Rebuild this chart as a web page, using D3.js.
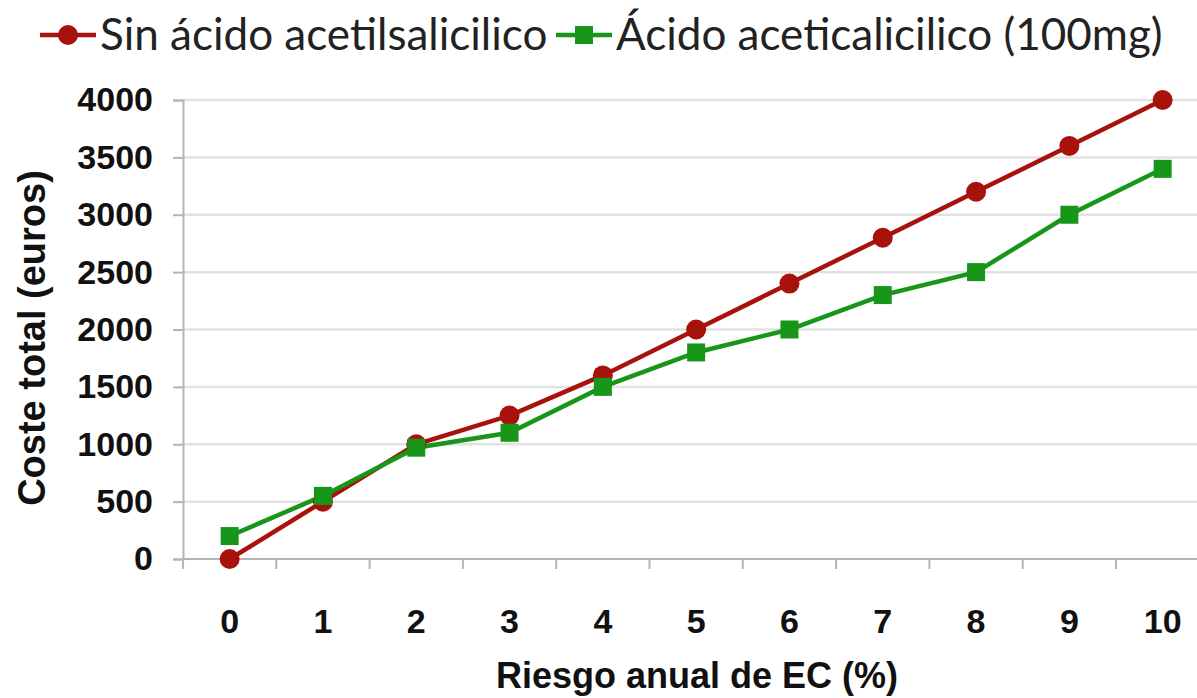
<!DOCTYPE html>
<html>
<head>
<meta charset="utf-8">
<script src="https://cdn.jsdelivr.net/npm/d3@7/dist/d3.min.js"></script>
<style>
  html, body { margin: 0; padding: 0; background: #fff; }
  svg { display: block; }
</style>
</head>
<body>
<svg id="chart" width="1197" height="698"></svg>
<script>
// Annual CHD risk (%) on the x axis
const categories = [0, 1, 2, 3, 4, 5, 6, 7, 8, 9, 10];
// Total cost (euros) per strategy
const sinAcido = [0, 500, 1000, 1250, 1600, 2000, 2400, 2800, 3200, 3600, 4000];
const conAcido = [200, 550, 970, 1100, 1500, 1800, 2000, 2300, 2500, 3000, 3400];
const yTicks = [0, 500, 1000, 1500, 2000, 2500, 3000, 3500, 4000];
const seriesNames = ["Sin ácido acetilsalicilico", "Ácido aceticalicilico (100mg)"];

const RED = "#a8120c";
const GREEN = "#17961a";
const BOLD_FONT = "Liberation Sans, Arial, sans-serif";

const svg = d3.select("#chart");
const m = { left: 183, top: 100, bottom: 559 };
const bandW = 93.3;

const x = d3.scaleBand()
  .domain(categories)
  .range([m.left, m.left + bandW * categories.length])
  .paddingInner(0).paddingOuter(0);
const y = d3.scaleLinear().domain([0, 4000]).range([m.bottom, m.top]);
const cx = d => x(d) + x.bandwidth() / 2;

// Horizontal gridlines
svg.append("g")
  .selectAll("line")
  .data(yTicks.filter(t => t > 0))
  .join("line")
  .attr("x1", m.left).attr("x2", 1197)
  .attr("y1", d => y(d)).attr("y2", d => y(d))
  .attr("stroke", "#e2e2e2").attr("stroke-width", 2.5);

// Y axis
const yAxis = svg.append("g")
  .attr("transform", `translate(${m.left},0)`)
  .call(d3.axisLeft(y).tickValues(yTicks).tickSize(10).tickPadding(20).tickFormat(d3.format("d")));
yAxis.select(".domain").attr("stroke", "#b5b5b5").attr("stroke-width", 2);
yAxis.selectAll(".tick line").attr("stroke", "#b5b5b5").attr("stroke-width", 2);
yAxis.selectAll(".tick text")
  .attr("font-family", BOLD_FONT)
  .attr("font-weight", "bold")
  .attr("font-size", 34)
  .attr("fill", "#111");

// X axis: ticks at band boundaries, labels centred in bands
const xAxisG = svg.append("g").attr("transform", `translate(0,${m.bottom})`);
xAxisG.append("line")
  .attr("x1", m.left).attr("x2", 1197)
  .attr("stroke", "#b5b5b5").attr("stroke-width", 2);
const boundaries = categories.map(c => x(c)).concat([x(categories[categories.length - 1]) + x.bandwidth()]);
xAxisG.selectAll("line.tk")
  .data(boundaries)
  .join("line")
  .attr("class", "tk")
  .attr("x1", d => d).attr("x2", d => d)
  .attr("y1", 0).attr("y2", 10)
  .attr("stroke", "#b5b5b5").attr("stroke-width", 2);
xAxisG.selectAll("text")
  .data(categories)
  .join("text")
  .attr("x", d => cx(d))
  .attr("y", 74)
  .attr("text-anchor", "middle")
  .attr("font-family", BOLD_FONT)
  .attr("font-weight", "bold")
  .attr("font-size", 34)
  .attr("fill", "#111")
  .text(d => d);

// Axis titles
svg.append("text")
  .attr("transform", "translate(45,338) rotate(-90)")
  .attr("text-anchor", "middle")
  .attr("font-family", BOLD_FONT)
  .attr("font-weight", "bold")
  .attr("font-size", 38)
  .attr("fill", "#111")
  .text("Coste total (euros)");
svg.append("text")
  .attr("x", 697).attr("y", 688)
  .attr("text-anchor", "middle")
  .attr("font-family", BOLD_FONT)
  .attr("font-weight", "bold")
  .attr("font-size", 36)
  .attr("fill", "#111")
  .text("Riesgo anual de EC (%)");

// Lines and markers
const line = d3.line().x((d, i) => cx(categories[i])).y(d => y(d));

svg.append("path").datum(sinAcido)
  .attr("d", line).attr("fill", "none")
  .attr("stroke", RED).attr("stroke-width", 4.5);
svg.append("path").datum(conAcido)
  .attr("d", line).attr("fill", "none")
  .attr("stroke", GREEN).attr("stroke-width", 4.5);

svg.append("g").selectAll("circle")
  .data(sinAcido)
  .join("circle")
  .attr("cx", (d, i) => cx(categories[i]))
  .attr("cy", d => y(d))
  .attr("r", 10)
  .attr("fill", RED);

const sq = 18;
svg.append("g").selectAll("rect")
  .data(conAcido)
  .join("rect")
  .attr("x", (d, i) => cx(categories[i]) - sq / 2)
  .attr("y", d => y(d) - sq / 2)
  .attr("width", sq).attr("height", sq)
  .attr("fill", GREEN);

// Legend
const legend = svg.append("g").attr("font-family", "Lato, 'Open Sans', sans-serif").attr("font-size", 44).attr("fill", "#222");
const leg1 = legend.append("g").attr("transform", "translate(40,35)");
leg1.append("line").attr("x1", 0).attr("x2", 56).attr("stroke", RED).attr("stroke-width", 4.5);
leg1.append("circle").attr("cx", 28).attr("r", 10).attr("fill", RED);
leg1.append("text").attr("x", 60).attr("y", 15).text(seriesNames[0]);

const leg2 = legend.append("g").attr("transform", "translate(556,35)");
leg2.append("line").attr("x1", 0).attr("x2", 56).attr("stroke", GREEN).attr("stroke-width", 4.5);
leg2.append("rect").attr("x", 28 - sq / 2).attr("y", -sq / 2).attr("width", sq).attr("height", sq).attr("fill", GREEN);
leg2.append("text").attr("x", 60).attr("y", 15).text(seriesNames[1]);
</script>
</body>
</html>
